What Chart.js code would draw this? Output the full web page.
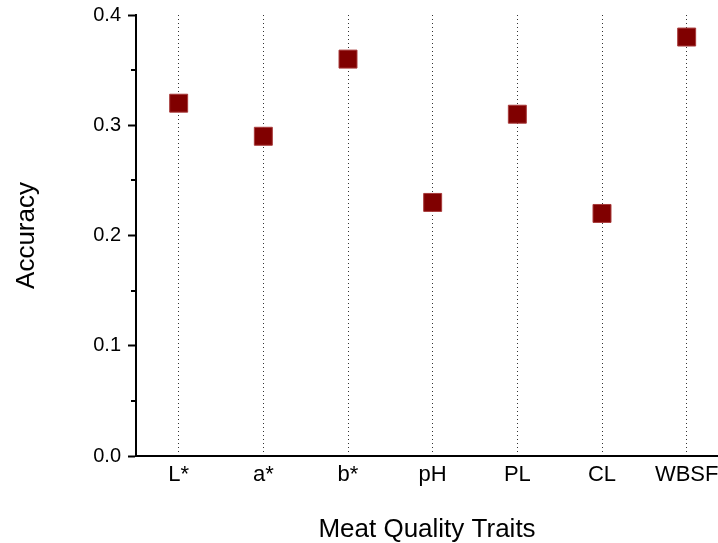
<!DOCTYPE html>
<html>
<head>
<meta charset="utf-8">
<script src="https://cdn.jsdelivr.net/npm/chart.js@4/dist/chart.umd.min.js"></script>
<style>
  html, body { margin: 0; padding: 0; background: #fff; }
  #wrap { width: 718px; height: 543px; }
</style>
</head>
<body>
<div id="wrap"><canvas id="c" width="718" height="543"></canvas></div>
<script>
// Prediction accuracy per meat quality trait
const traits = ['L*', 'a*', 'b*', 'pH', 'PL', 'CL', 'WBSF'];
const accuracy = [0.32, 0.29, 0.36, 0.23, 0.31, 0.22, 0.38];
const yTicks = [0.0, 0.1, 0.2, 0.3, 0.4];
const yMinorTicks = [0.05, 0.15, 0.25, 0.35];

const FONT = "'Liberation Sans', Arial, sans-serif";

// short minor tick marks on the left axis
const minorTicks = {
  id: 'minorTicks',
  afterDraw(chart) {
    const y = chart.scales.y;
    const ctx = chart.ctx;
    ctx.save();
    ctx.strokeStyle = '#000';
    ctx.lineWidth = 2;
    yMinorTicks.forEach(v => {
      const py = Math.round(y.getPixelForValue(v));
      ctx.beginPath();
      ctx.moveTo(y.right - 5, py);
      ctx.lineTo(y.right, py);
      ctx.stroke();
    });
    ctx.restore();
  }
};

new Chart(document.getElementById('c'), {
  type: 'scatter',
  data: {
    datasets: [{
      label: 'Accuracy',
      data: accuracy.map((v, i) => ({ x: i, y: v })),
      pointStyle: 'rect',
      pointRadius: 12.7,
      pointHoverRadius: 12.7,
      backgroundColor: '#800000',
      borderColor: '#a83a3a',
      borderWidth: 1
    }]
  },
  options: {
    responsive: false,
    animation: false,
    events: [],
    layout: { autoPadding: false, padding: { top: 15, right: 0, left: 0, bottom: 0 } },
    plugins: { legend: { display: false }, tooltip: { enabled: false } },
    scales: {
      x: {
        type: 'linear',
        min: -0.504,
        max: 6.37,
        afterBuildTicks(scale) {
          scale.ticks = traits.map((t, i) => ({ value: i }));
        },
        afterFit(scale) {
          scale.height = 87;
          scale.paddingLeft = 0;
          scale.paddingRight = 0;
        },
        ticks: {
          callback: (v) => traits[v],
          color: '#000',
          padding: 6,
          maxRotation: 0,
          autoSkip: false,
          font: { family: FONT, size: 22 }
        },
        grid: {
          drawTicks: false,
          color: '#333',
          lineWidth: 1
        },
        border: { display: true, color: '#000', width: 2, dash: [1, 3] },
        title: {
          display: true,
          text: 'Meat Quality Traits',
          color: '#000',
          font: { family: FONT, size: 26, lineHeight: 1 },
          padding: { top: 0, bottom: 0 }
        }
      },
      y: {
        min: 0,
        max: 0.4,
        afterBuildTicks(scale) {
          scale.ticks = yTicks.map(v => ({ value: v }));
        },
        afterFit(scale) {
          scale.width = 136;
          scale.paddingTop = 0;
          scale.paddingBottom = 0;
        },
        ticks: {
          callback: (v) => Number(v).toFixed(1),
          color: '#000',
          padding: 7,
          font: { family: FONT, size: 20 }
        },
        grid: {
          drawOnChartArea: false,
          tickLength: 8,
          tickColor: '#000',
          tickWidth: 2
        },
        border: { display: true, color: '#000', width: 2 },
        title: {
          display: true,
          text: 'Accuracy',
          color: '#000',
          font: { family: FONT, size: 26, lineHeight: 1 },
          padding: { top: 14, bottom: 0 }
        }
      }
    }
  },
  plugins: [minorTicks]
});
</script>
</body>
</html>
